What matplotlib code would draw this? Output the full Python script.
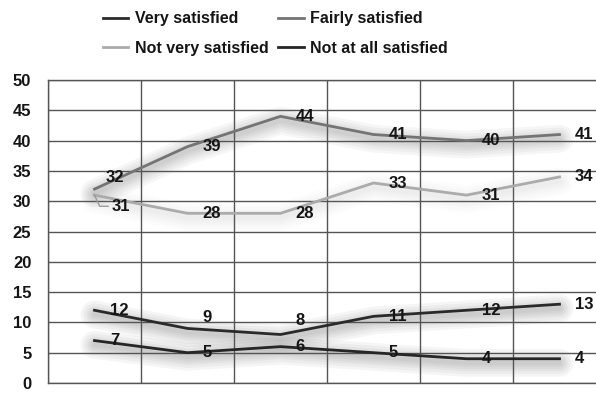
import matplotlib
matplotlib.use("Agg")
import matplotlib.pyplot as plt
import matplotlib.patheffects as pe
import numpy as np

plt.rcParams['font.family'] = ['Liberation Sans', 'DejaVu Sans']
plt.rcParams['font.weight'] = 'bold'

# survey waves (no axis labels shown)
waves = [1, 2, 3, 4, 5, 6]
very_satisfied = [12, 9, 8, 11, 12, 13]
fairly_satisfied = [32, 39, 44, 41, 40, 41]
not_very_satisfied = [31, 28, 28, 33, 31, 34]
not_at_all_satisfied = [7, 5, 6, 5, 4, 4]

series_names = ['Very satisfied', 'Fairly satisfied',
                'Not very satisfied', 'Not at all satisfied']
series_values = [very_satisfied, fairly_satisfied,
                 not_very_satisfied, not_at_all_satisfied]
series_colors = ['#2a2a2a', '#747474', '#ababab', '#262626']
shadow_alpha = [0.06, 0.055, 0.015, 0.06]

fig = plt.figure(figsize=(5.96, 3.94), dpi=100)
# axes runs a little past the right edge, so the last border is cut off
ax = fig.add_axes([48 / 596, 11 / 394, 558 / 596, 303 / 394])


def glow(alpha):
    # stack of soft wide strokes under the line, shifted down a bit
    fx = [pe.SimpleLineShadow(offset=(0, -3), shadow_color='#606060',
                              alpha=alpha, rho=1.0, linewidth=w,
                              capstyle='round', joinstyle='round')
          for w in (20, 16, 12, 9, 6, 3)]
    return fx + [pe.Normal()]


handles = {}
for name, vals, col, sa in zip(series_names, series_values, series_colors, shadow_alpha):
    ln, = ax.plot(waves, vals, color=col, lw=2, label=name,
                  path_effects=glow(sa), zorder=3)
    handles[name] = ln

# label offsets (points) where a label sits above the line instead of beside it
raised = {('Fairly satisfied', 0): (8, 8),
          ('Very satisfied', 1): (11, 8),
          ('Very satisfied', 2): (11, 10)}

label_style = dict(fontsize=12, fontweight='bold', color='#151515',
                   va='center', ha='left', zorder=5)
for name, vals in zip(series_names, series_values):
    for i, (x, v) in enumerate(zip(waves, vals)):
        if name == 'Not very satisfied' and i == 0:
            ax.annotate(str(v), (x, v), xytext=(12, -8), textcoords='offset points',
                        arrowprops=dict(arrowstyle='-', color='#9a9a9a', lw=1,
                                        shrinkA=0, shrinkB=0,
                                        connectionstyle='angle,angleA=0,angleB=-65'),
                        **label_style)
        else:
            off = raised.get((name, i), (11, 0))
            ax.annotate(str(v), (x, v), xytext=off, textcoords='offset points',
                        **label_style)

ax.set_xlim(0.5, 6.5)
ax.set_ylim(0, 50)
ax.set_yticks(np.arange(0, 51, 5))
ax.set_xticks(np.arange(0.5, 6.6, 1))
ax.set_xticklabels([])
ax.grid(True, color='#555555', lw=1)
ax.set_axisbelow(True)
ax.tick_params(length=0, labelsize=12, pad=12, colors='#151515')
for s in ax.spines.values():
    s.set_color('#555555')
    s.set_linewidth(1)

order = ['Very satisfied', 'Not very satisfied', 'Fairly satisfied', 'Not at all satisfied']
fig.legend([handles[n] for n in order], order, loc='upper center',
           bbox_to_anchor=(0.462, 1.0), ncol=2, frameon=False, fontsize=11.5,
           handlelength=1.6, handletextpad=0.4, columnspacing=0.6,
           labelspacing=0.9, borderaxespad=0.3)
for t in fig.legends[0].get_texts():
    t.set_fontweight('bold')
    t.set_color('#151515')
for h in fig.legends[0].legend_handles:
    h.set_path_effects([pe.Normal()])

fig.savefig('out.png', dpi=100)
